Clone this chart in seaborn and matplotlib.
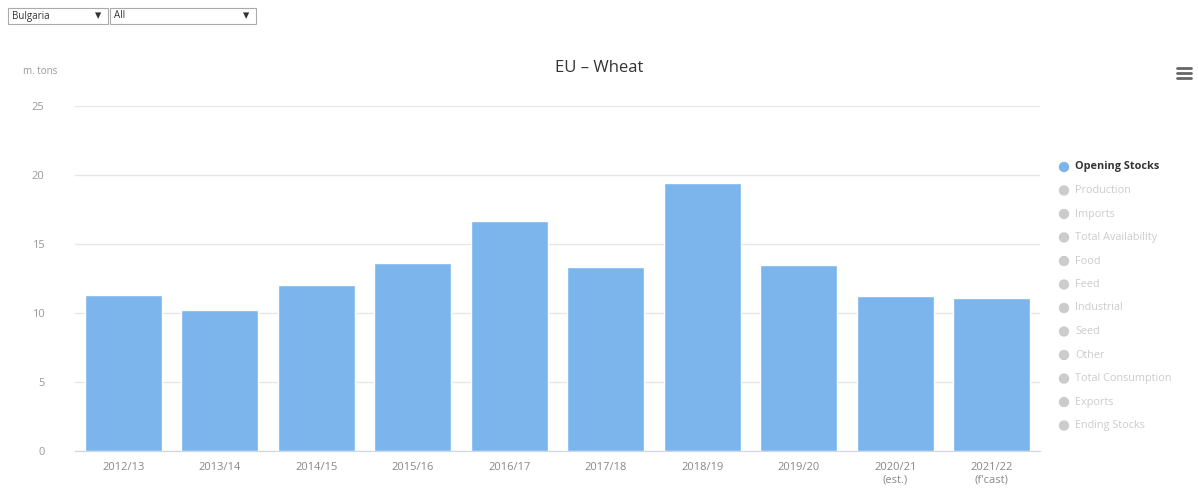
import matplotlib.pyplot as plt
import matplotlib.patches as mpatches
import pandas as pd
import seaborn as sns

seasons = ["2012/13", "2013/14", "2014/15", "2015/16", "2016/17",
           "2017/18", "2018/19", "2019/20", "2020/21\n(est.)", "2021/22\n(f'cast)"]
opening_stocks = [11.3, 10.2, 12.0, 13.6, 16.7, 13.3, 19.4, 13.5, 11.2, 11.1]
legend_items = ["Opening Stocks", "Production", "Imports", "Total Availability", "Food",
                "Feed", "Industrial", "Seed", "Other", "Total Consumption", "Exports",
                "Ending Stocks"]
y_ticks = [0, 5, 10, 15, 20, 25]

BAR_COLOR = "#7cb5ec"


def main() -> None:
    sns.set_style("white")
    plt.rcParams["font.family"] = ["Open Sans", "DejaVu Sans"]

    df = pd.DataFrame({"season": seasons, "value": opening_stocks})

    fig = plt.figure(figsize=(11.98, 4.95), dpi=100)
    ax = fig.add_axes([75 / 1198, 44 / 495, 965 / 1198, 345 / 495])

    sns.barplot(data=df, x="season", y="value", color=BAR_COLOR, width=0.8,
                saturation=1, ax=ax, zorder=3)

    ax.set_ylim(0, 25)
    ax.set_xlim(-0.5, len(seasons) - 0.5)
    ax.set_yticks(y_ticks)
    ax.set_yticklabels([str(t) for t in y_ticks], color="#999999", fontsize=8)
    ax.tick_params(axis="x", colors="#888888", labelsize=8, length=0, pad=8)
    ax.tick_params(axis="y", length=0, pad=22)
    ax.set_xlabel("")
    ax.set_ylabel("")
    ax.grid(axis="y", color="#e6e6e6", linewidth=1, zorder=0)
    for s in ["top", "right", "left"]:
        ax.spines[s].set_visible(False)
    ax.spines["bottom"].set_color("#ccd6eb")

    fig.text(0.5, 0.862, "EU – Wheat", ha="center", va="center",
             fontsize=12, color="#333333")
    fig.text(40 / 1198, 1 - 72 / 495, "m. tons", ha="center", va="center",
             fontsize=7, color="#999999")

    # legend
    for i, name in enumerate(legend_items):
        y = 1 - (167 + i * 23.5) / 495
        active = i == 0
        fig.add_artist(mpatches.Ellipse((1064 / 1198, y), 9 / 1198, 9 / 495,
                                        transform=fig.transFigure,
                                        color=BAR_COLOR if active else "#cccccc"))
        fig.text(1075 / 1198, y, name, ha="left", va="center", fontsize=7.8,
                 color="#333333" if active else "#cccccc",
                 fontweight="bold" if active else "normal")

    # dropdowns
    for x0, w, label in [(8, 100, "Bulgaria"), (110, 146, "All")]:
        fig.patches.append(mpatches.Rectangle((x0 / 1198, 1 - 24 / 495), w / 1198, 16 / 495,
                                              transform=fig.transFigure, facecolor="white",
                                              edgecolor="#aaaaaa", linewidth=0.8))
        fig.text((x0 + 4) / 1198, 1 - 16 / 495, label, ha="left", va="center",
                 fontsize=7, color="#333333")
        fig.text((x0 + w - 10) / 1198, 1 - 16 / 495, "▾", ha="center", va="center",
                 fontsize=9, color="#333333")

    # menu icon
    for dy in [-5, 0, 5]:
        yy = 1 - (73 + dy) / 495
        fig.add_artist(plt.Line2D([1177 / 1198, 1191 / 1198], [yy, yy],
                                  color="#666666", linewidth=2))

    fig.savefig("out.png", dpi=100)
    plt.close(fig)


if __name__ == "__main__":
    main()
